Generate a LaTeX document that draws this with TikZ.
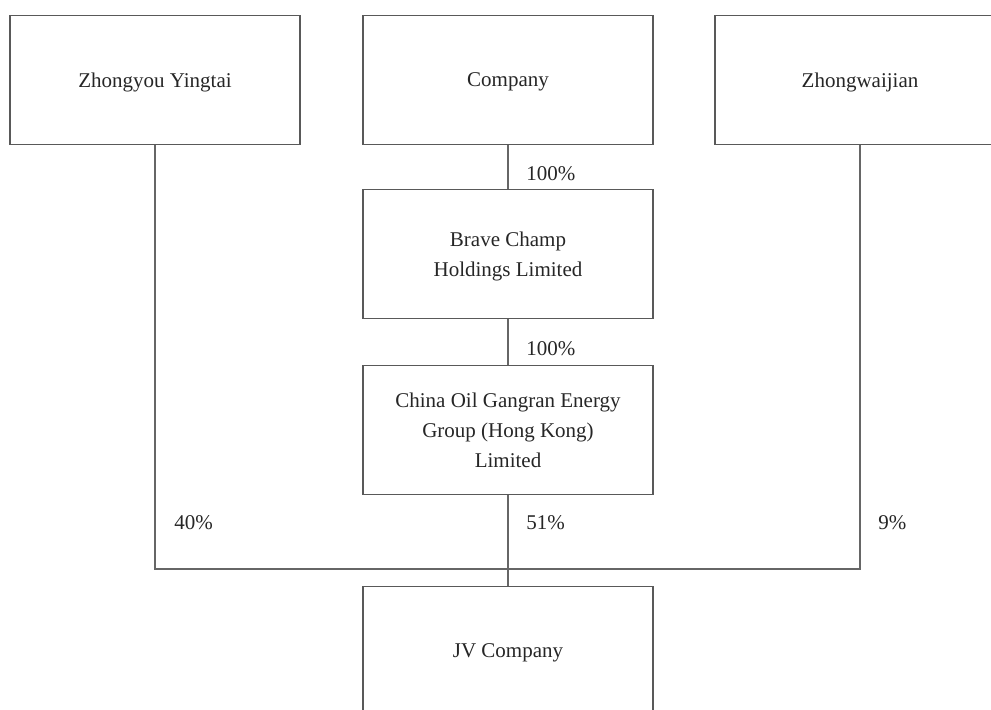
\documentclass[tikz,border=0pt]{standalone}
\usepackage{fontspec}
\setmainfont{Liberation Serif}
\usetikzlibrary{positioning}

\begin{document}
\begin{tikzpicture}[x=0.5pt,y=-0.5pt,
    entity/.style={draw=black!65,line width=0.75pt,text=black!85,
      minimum width=145pt,minimum height=64.5pt,align=center,text depth=0pt,
      font=\fontsize{10.5}{15}\selectfont},
    link/.style={draw=black!60,line width=0.75pt},
    share/.style={anchor=base west,text=black!85,inner sep=0pt,
      font=\fontsize{10.5}{15}\selectfont}]
  \clip (0,0) rectangle (991,709);
  % owners
  \node[entity] (yingtai) at (155,80) {Zhongyou Yingtai};
  \node[entity] (company) at (508,80) {Company};
  \node[entity] (zwj) at (860,80) {Zhongwaijian};
  % holding chain
  \node[entity] (brave) at (508,254) {Brave Champ\\Holdings Limited};
  \node[entity] (china) at (508,430) {China Oil Gangran Energy\\Group (Hong Kong)\\Limited};
  \node[entity] (jv) at (508,651) {JV Company};
  \coordinate (jn) at (508,569);
  \draw[link] (company) -- (brave);
  \draw[link] (brave) -- (china);
  \draw[link] (yingtai.south) |- (jn);
  \draw[link] (zwj.south) |- (jn);
  \draw[link] (china) -- (jv);
  % percentages
  \node[share] (p1) at (526,180) {100\%};
  \node[share] (p2) at (526,355) {100\%};
  \node[share] (p3) at (174,529) {40\%};
  \node[share] (p4) at (526,529) {51\%};
  \node[share] (p5) at (878,529) {9\%};
\end{tikzpicture}
\end{document}
